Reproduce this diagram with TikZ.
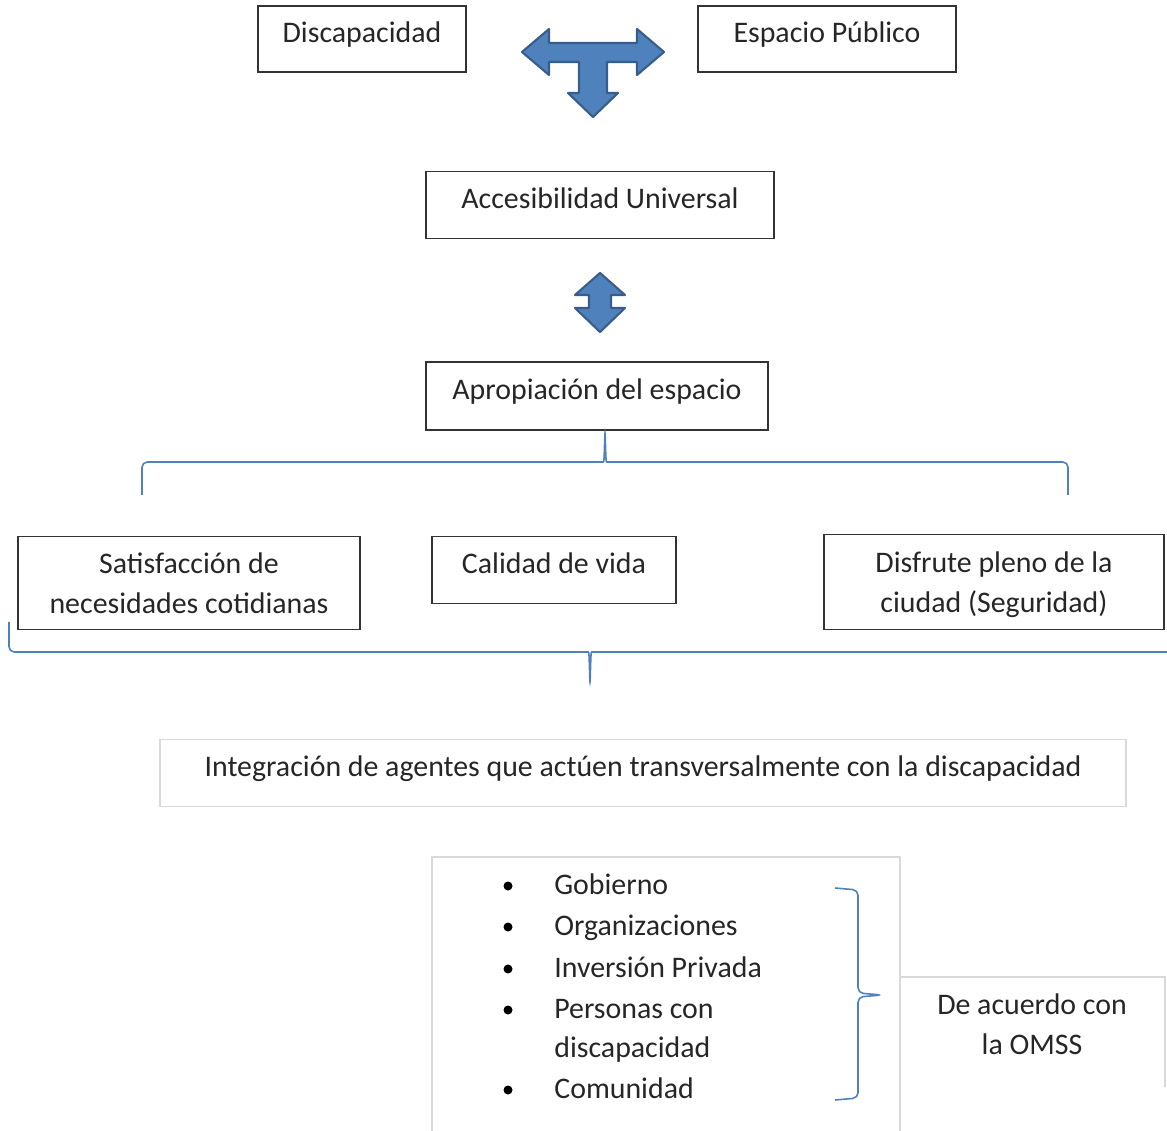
\documentclass[tikz,border=0pt]{standalone}
\usepackage{fontspec}
\setmainfont{Carlito}
\definecolor{azul}{HTML}{4F81BD}
\definecolor{azulosc}{HTML}{385D8A}
\begin{document}
\begin{tikzpicture}[x=0.02cm,y=-0.02cm,
	every node/.style={font=\fontsize{17}{23}\selectfont,text=black!85,align=center,inner sep=0pt},
	caja/.style={draw=black!80,line width=0.8pt,text depth=8pt},
	gris/.style={draw=black!15,line width=0.8pt},
	llave/.style={draw=azul,line width=0.9pt,rounded corners=3pt},
	flecha/.style={fill=azul,draw=azulosc,line width=1.2pt,line join=round}]
				\useasboundingbox (0,0) rectangle (1167,1131);
				% cajas de arriba
				\node[caja,minimum width=4.16cm,minimum height=1.32cm] (disc) at (362,39){Discapacidad};
				\node[caja,minimum width=5.16cm,minimum height=1.32cm] (esp) at (827,39){Espacio Público};
				\node[caja,minimum width=6.96cm,minimum height=1.34cm] (acc) at (600,205){Accesibilidad Universal};
				\node[caja,minimum width=6.84cm,minimum height=1.36cm] (apr) at (597,396){Apropiación del espacio};
				% flechas
				\draw[flecha] (522,52)--(549,29)--(549,43)--(637,43)--(637,29)--(664,52)--(637,75)--(637,62)
					--(607,62)--(607,93)--(618,93)--(593,117)--(568,93)--(579,93)--(579,62)--(549,62)--(549,75)--cycle;
				\draw[flecha] (600,273)--(625,295)--(611,295)--(611,308)--(625,308)--(600,332)
					--(575,308)--(589,308)--(589,295)--(575,295)--cycle;
				% llave de arriba
				\draw[llave] (142,495)--(142,462)--(598,462) .. controls (604,462) .. (605,430)
					.. controls (606,462) .. (612,462)--(1068,462)--(1068,495);
				% tres cajas del medio
				\node[caja,minimum width=6.84cm,minimum height=1.86cm,text depth=0pt] (sat) at (189,583){Satisfacción de\\necesidades cotidianas};
				\node[caja,minimum width=4.88cm,minimum height=1.34cm] (cal) at (554,570){Calidad de vida};
				\node[caja,minimum width=6.80cm,minimum height=1.90cm,text depth=0pt] (dis) at (994,582){Disfrute pleno de la\\ciudad (Seguridad)};
				% llave de abajo
				\draw[llave] (9,622)--(9,652)--(583,652) .. controls (589,652) .. (590,685)
					.. controls (591,652) .. (597,652)--(1175,652);
				\node[gris,minimum width=19.32cm,minimum height=1.34cm,text depth=8pt] (int) at (643,773){Integración de agentes que actúen transversalmente con la discapacidad};
				% lista de agentes
				\draw[gris] (432,1140) |- (900,857) -- (900,1140);
				\foreach \y/\t [count=\i] in {886/Gobierno,927/Organizaciones,969/Inversión Privada,1010/Personas con,1049/discapacidad,1090/Comunidad}{
					\node[anchor=base west] (ag\i) at (554,\y+8){\t};
				}
				\foreach \y in {886,927,969,1010,1090}
					\fill[black] (508,\y) circle (0.09cm);
				\draw[llave] (835,888)--(858,890)--(858,993)--(882,995)--(858,997)--(858,1098)--(835,1100);
				\node (omss) at (1032,1024){De acuerdo con\\la OMSS};
				\draw[gris] (900,1087) |- (1165,977) -- (1165,1087);
\end{tikzpicture}
\end{document}
